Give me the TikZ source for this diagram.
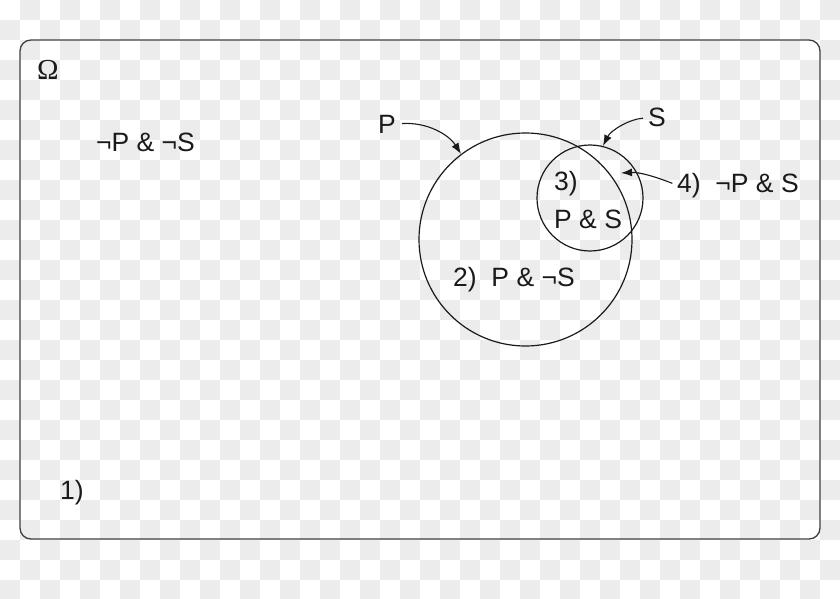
\documentclass[tikz,border=0pt]{standalone}
\usepackage{fontspec}
\setmainfont{Liberation Sans}
\newfontfamily\omegafont{Liberation Serif}
\usetikzlibrary{arrows.meta}
\definecolor{checker}{HTML}{ECECEC}
\definecolor{ink}{HTML}{1A1A1A}
\begin{document}
\begin{tikzpicture}[x=1pt,y=-1pt,
  lbl/.style={inner sep=0pt, anchor=base west, text=ink, font=\fontsize{26.5}{31}\selectfont},
  arr/.style={-{Latex[length=11pt,width=8pt]}, line width=1.1pt, draw=ink},
  venn/.style={circle, draw=ink, line width=1.2pt, inner sep=0pt}]
\useasboundingbox (0,0) rectangle (840,599);
% transparent-background checkerboard
\foreach \i in {0,...,41}{
  \foreach \j in {0,...,29}{
    \pgfmathparse{int(mod(\i+\j,2))}
    \ifnum\pgfmathresult=1 \fill[checker] (\i*20,\j*20) rectangle ++(20,20);\fi
  }
}
% universe
\draw[line width=1.3pt, draw=black!75, rounded corners=11pt] (20,40) rectangle (820,539);
% circles
\node[venn, minimum size=213pt] (Pc) at (525.5,239.5) {};
\node[venn, minimum size=106pt] (Sc) at (590,198) {};
% labels
\node[lbl, font=\omegafont\fontsize{29}{33}\selectfont] (omega) at (37,80) {Ω};
\node[lbl] (r1) at (96,151) {¬P \& ¬S};
\node[lbl] (Plabel) at (378,133) {P};
\node[lbl] (Slabel) at (648,127) {S};
\node[lbl] (r3a) at (554,190) {3)};
\node[lbl] (r3b) at (554,228) {P \& S};
\node[lbl] (r4) at (677,192) {4)\ \ ¬P \& S};
\node[lbl] (r2) at (453,286) {2)\ \ P \& ¬S};
\node[lbl] (one) at (60,499) {1)};
\coordinate (r4pt) at (621,173);
% arrows
\draw[arr, shorten <=6pt] (Plabel.east) .. controls (428,122) and (449,135) .. (Pc.127.5);
\draw[arr, shorten <=5pt] (Slabel.west) .. controls (630,119) and (611,130) .. (Sc.76.5);
\draw[arr, shorten <=5pt] (r4.west) .. controls (656,177) and (640,172) .. (r4pt);
\end{tikzpicture}
\end{document}
